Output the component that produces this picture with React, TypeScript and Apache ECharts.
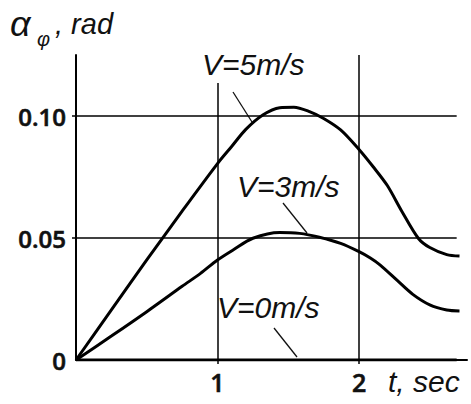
import { useEffect, useRef } from "react";
import * as echarts from "echarts";

// time, sec
const timeV5 = [0, 0.25, 0.5, 0.75, 1.0, 1.1, 1.2, 1.32, 1.44, 1.54, 1.65, 1.75, 1.87, 2.0, 2.1, 2.2, 2.3, 2.42, 2.5, 2.62, 2.71];
// alpha_phi, rad
const alphaV5 = [0, 0.0205, 0.041, 0.061, 0.0805, 0.0875, 0.0945, 0.1004, 0.1034, 0.1036, 0.1018, 0.099, 0.0943, 0.0863, 0.0792, 0.0715, 0.0612, 0.0498, 0.0461, 0.0432, 0.0426];

const timeV3 = [0, 0.25, 0.5, 0.75, 0.88, 1.0, 1.11, 1.25, 1.44, 1.58, 1.72, 1.87, 2.0, 2.08, 2.15, 2.27, 2.38, 2.5, 2.62, 2.71];
const alphaV3 = [0, 0.0098, 0.0198, 0.0302, 0.0355, 0.041, 0.0451, 0.0499, 0.0523, 0.0519, 0.0503, 0.0478, 0.0444, 0.0418, 0.0389, 0.0326, 0.0269, 0.0226, 0.0205, 0.0201];

const timeV0 = [0, 2.69];
const alphaV0 = [0, 0];

const seriesNames = ["V=5m/s", "V=3m/s", "V=0m/s"];
const xTickValues = [1, 2];
const yTickValues = [0.05, 0.1];
const yLabelValues = [0, 0.05, 0.1];
const xAxisMax = 2.763;
const yAxisMax = 0.125;
const hGridValues = [0.05, 0.1];
const hGridEnd = 2.69;
const vGridValues = [1, 2];
const vGridTops = [0.1135, 0.125];

const FONT_GOST = "'Liberation Sans', Arial, sans-serif";
const FONT_TICK = "'Open Sans', 'Liberation Sans', Arial, sans-serif";

function pairs(xs: number[], ys: number[]) {
  return xs.map((x, i) => [x, ys[i]]);
}

function italicText(text: string, x: number, y: number, size: number) {
  return {
    type: "text",
    x,
    y,
    silent: true,
    style: {
      text,
      fontSize: size,
      fontFamily: FONT_GOST,
      fontStyle: "italic",
      fill: "#111",
      align: "left",
      verticalAlign: "middle",
    },
  };
}

function leader(x1: number, y1: number, x2: number, y2: number) {
  return {
    type: "line",
    silent: true,
    shape: { x1, y1, x2, y2 },
    style: { stroke: "#111", lineWidth: 1.3 },
  };
}

const tickLabelStyle = {
  fontWeight: 600,
  fontFamily: FONT_TICK,
  color: "#111",
  textBorderColor: "#111",
  textBorderWidth: 0.6,
};

export default function App() {
  const ref = useRef<HTMLDivElement>(null);

  useEffect(() => {
    const chart = echarts.init(ref.current!, null, { renderer: "svg" });

    const gridMarks: any[] = [
      ...hGridValues.map((v) => [{ coord: [0, v] }, { coord: [hGridEnd, v] }]),
      ...vGridValues.map((t, i) => [{ coord: [t, 0] }, { coord: [t, vGridTops[i]] }]),
    ];

    const lineStyle = { color: "#000", width: 3 };

    chart.setOption({
      animation: false,
      backgroundColor: "#fff",
      grid: { left: 76, right: 4, top: 55, bottom: 44 },
      xAxis: {
        type: "value",
        min: 0,
        max: xAxisMax,
        axisLine: { show: true, lineStyle: { color: "#000", width: 2 } },
        axisTick: { show: true, customValues: xTickValues, length: 4, lineStyle: { color: "#000", width: 1.5 } },
        axisLabel: {
          ...tickLabelStyle,
          customValues: xTickValues,
          margin: 9,
          fontSize: 25,
          formatter: (v: number) => String(v),
        },
        splitLine: { show: false },
      },
      yAxis: {
        type: "value",
        min: 0,
        max: yAxisMax,
        axisLine: { show: true, lineStyle: { color: "#000", width: 2 } },
        axisTick: { show: true, customValues: yTickValues, length: 4, lineStyle: { color: "#000", width: 1.5 } },
        axisLabel: {
          ...tickLabelStyle,
          customValues: yLabelValues,
          margin: 10,
          fontSize: 24,
          formatter: (v: number) => (v === 0 ? "0" : v.toFixed(2)),
        },
        splitLine: { show: false },
      },
      series: [
        {
          name: seriesNames[2],
          type: "line",
          data: pairs(timeV0, alphaV0),
          showSymbol: false,
          lineStyle,
          silent: true,
          z: 3,
          markLine: {
            silent: true,
            symbol: ["none", "none"],
            label: { show: false },
            lineStyle: { color: "#000", width: 1.5, type: "solid" },
            data: gridMarks,
            z: 1,
          },
        },
        {
          name: seriesNames[0],
          type: "line",
          data: pairs(timeV5, alphaV5),
          smooth: 0.3,
          showSymbol: false,
          lineStyle,
          silent: true,
          z: 3,
        },
        {
          name: seriesNames[1],
          type: "line",
          data: pairs(timeV3, alphaV3),
          smooth: 0.3,
          showSymbol: false,
          lineStyle,
          silent: true,
          z: 3,
        },
      ],
      graphic: [
        // axis titles
        {
          type: "text",
          x: 10,
          y: 23,
          silent: true,
          style: { text: "α", fontSize: 36, fontFamily: FONT_GOST, fontStyle: "italic", fill: "#111", align: "left", verticalAlign: "middle" },
        },
        {
          type: "text",
          x: 37,
          y: 39,
          silent: true,
          style: { text: "φ", fontSize: 20, fontFamily: FONT_GOST, fontStyle: "italic", fill: "#111", align: "left", verticalAlign: "middle" },
        },
        italicText(", rad", 55, 24, 29),
        italicText("t, sec", 388, 381.5, 30),
        // curve annotations
        italicText(seriesNames[0], 202, 64.5, 30),
        italicText(seriesNames[1], 237, 186.5, 30),
        italicText(seriesNames[2], 217, 307.5, 30),
        leader(233, 92, 252, 122),
        leader(283, 203, 307, 233),
        leader(274, 328, 297, 357),
      ],
    });

    return () => chart.dispose();
  }, []);

  return (
    <div
      ref={ref}
      style={{ position: "absolute", left: 0, top: 0, width: 471, height: 404 }}
    />
  );
}
